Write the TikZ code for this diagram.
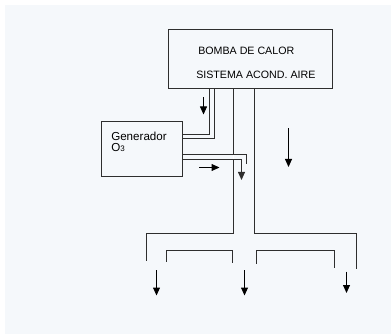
\documentclass[tikz,border=0pt]{standalone}
\usepackage{fontspec}
\setmainfont{Liberation Sans}
\usetikzlibrary{arrows.meta}
\definecolor{bgc}{HTML}{F5F8FB}
\definecolor{ln}{HTML}{2E2E2E}
\begin{document}
\begin{tikzpicture}[x=0.75pt,y=-0.75pt,
  pipe/.style={draw=ln,line width=0.75pt},
  flow/.style={draw=black,line width=0.75pt,-{Triangle[length=6pt,width=5.2pt]}},
  box/.style={draw=ln,line width=0.75pt,rectangle,inner sep=0pt},
  lbl/.style={inner sep=0pt,font=\fontsize{8pt}{9pt}\selectfont,text=black}]
\useasboundingbox (0,0) rectangle (391,334);
\fill[white] (0,0) rectangle (391,334);
\fill[bgc] (5,5) rectangle (391,334);
% boxes
\node[box,minimum width=123pt,minimum height=44.25pt] (hp) at (250.5,59) {};
\node[lbl,anchor=base west] (t1) at (198,54.3) {BOMBA DE CALOR};
\node[lbl,anchor=base west] (t2) at (196,78.3) {SISTEMA ACOND. AIRE};
\node[box,minimum width=60.75pt,minimum height=41.25pt] (gen) at (142,149) {};
\node[lbl,anchor=base west,font=\fontsize{8.7pt}{10pt}\selectfont] (g1) at (111,140.5) {Generador};
\node[lbl,anchor=base west,font=\fontsize{8.7pt}{10pt}\selectfont] (g2) at (111,152) {O{\fontsize{6pt}{6pt}\selectfont 3}};
% coordinates
\coordinate (a1) at (209.5,134.5);
\coordinate (a2) at (214.5,138.5);
\coordinate (m1) at (233.5,233.5);
\coordinate (m1l) at (146.5,260.5);
\coordinate (m2) at (254.5,233.5);
\coordinate (m2r) at (356.5,268.5);
\coordinate (bl1) at (166.5,261.5);
\coordinate (bl2) at (232.5,250.5);
\coordinate (bl3) at (232.5,262.5);
\coordinate (br1) at (256.5,263.5);
\coordinate (br2) at (334.5,250.5);
\coordinate (br3) at (334.5,267.5);
\coordinate (u1) at (246.5,154.5);
\coordinate (u2) at (246.5,164.5);
\coordinate (w1) at (241.5,159.5);
\coordinate (w2) at (241.5,180);
% supply pipes from heat pump to generator
\draw[pipe] (hp.south -| a1) -- (a1) -- (gen.east |- a1);
\draw[pipe] (hp.south -| a2) -- (a2) -- (gen.east |- a2);
% main ducts
\draw[pipe] (hp.south -| m1) -- (m1) -| (m1l);
\draw[pipe] (hp.south -| m2) -- (m2) -| (m2r);
\fill[white] (232.8,155.1) rectangle (234.2,159.0);
% brackets
\draw[pipe] (bl1) |- (bl2) -- (bl3);
\draw[pipe] (br1) |- (br2) -- (br3);
% ozone lines from generator
\draw[pipe] (gen.east |- u1) -- (u1) -- (u2);
\draw[pipe,-{Triangle[length=6pt,width=5.2pt]}] (gen.east |- w1) -- (w1) -- (w2);
% flow arrows
\coordinate (f1a) at (203.5,97.3); \coordinate (f1b) at (203.5,114.5);
\coordinate (f2a) at (288.5,128.3); \coordinate (f2b) at (288.5,167);
\coordinate (f3a) at (199,167.5); \coordinate (f3b) at (219.5,167.5);
\coordinate (f4a) at (156.5,270); \coordinate (f4b) at (156.5,295.5);
\coordinate (f5a) at (244.5,270); \coordinate (f5b) at (244.5,295.5);
\coordinate (f6a) at (346.5,271.7); \coordinate (f6b) at (346.5,293);
\draw[flow] (f1a) -- (f1b);
\draw[flow] (f2a) -- (f2b);
\draw[flow] (f3a) -- (f3b);
\draw[flow] (f4a) -- (f4b);
\draw[flow] (f5a) -- (f5b);
\draw[flow] (f6a) -- (f6b);
\end{tikzpicture}
\end{document}
